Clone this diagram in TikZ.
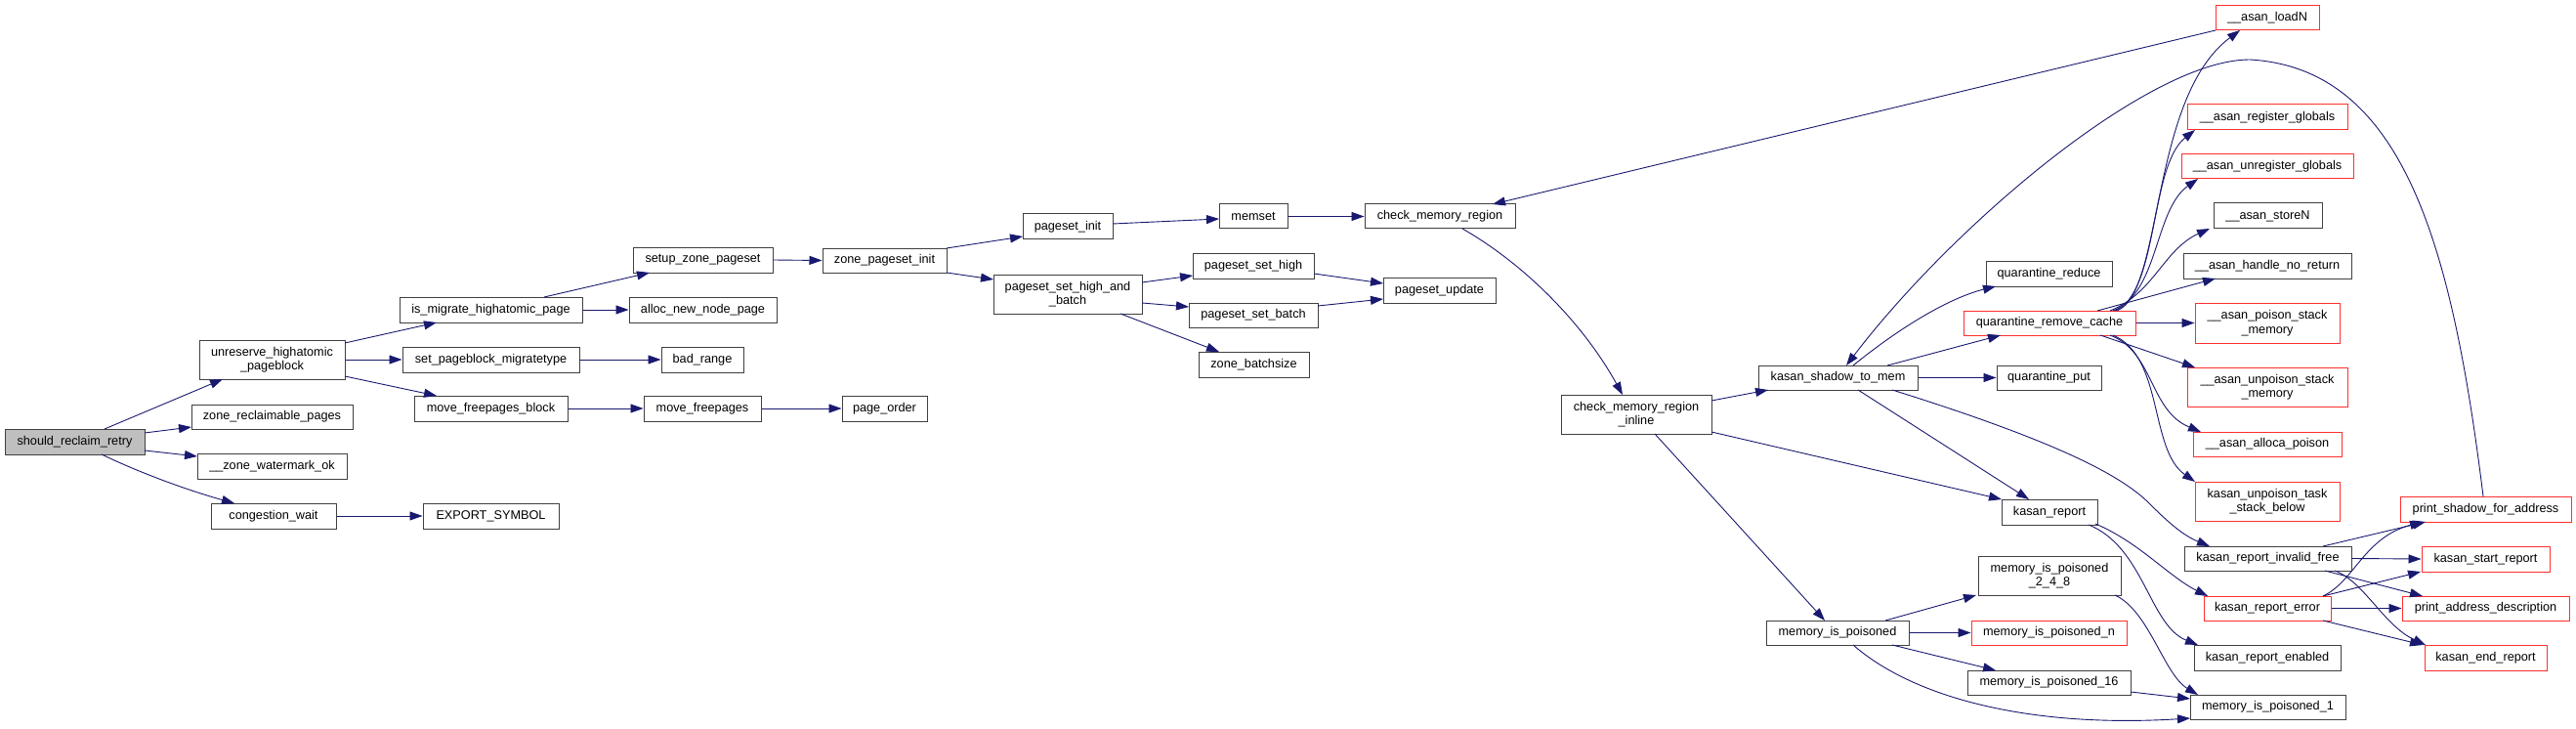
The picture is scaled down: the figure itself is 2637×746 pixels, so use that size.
\documentclass[tikz,border=0pt]{standalone}
\usepackage{fontspec}
\setmainfont{Liberation Sans}
\usetikzlibrary{arrows.meta}
\definecolor{edgec}{HTML}{191970}
\definecolor{redb}{HTML}{FF3030}
\definecolor{boxb}{HTML}{404040}
\definecolor{rootf}{HTML}{BFBFBF}
\tikzset{
 fn/.style={draw=boxb, line width=1pt, inner sep=0pt, align=center, font=\fontsize{12.7}{14.5}\selectfont},
 fnred/.style={fn, draw=redb},
 fnroot/.style={fn, fill=rootf},
 call/.style={draw=edgec, line width=0.9pt, -{Triangle[length=13pt,width=9pt]}},
}
\newcommand\mknode[7]{\node[#1,minimum width={(#5)-(#3)},minimum height={(#6)-(#4)}] (#2) at ({((#3)+(#5))/2},{((#4)+(#6))/2}) {#7};}
\begin{document}
\begin{tikzpicture}[x=1pt,y=-1pt]
\useasboundingbox (0,0) rectangle (2637,746);
\mknode{fnroot}{srr}{5}{439}{148}{465}{should\_reclaim\_retry}
\mknode{fn}{urh}{204}{348}{353}{388}{unreserve\_highatomic\\\_pageblock}
\mknode{fn}{zrp}{196}{414}{361}{439}{zone\_reclaimable\_pages}
\mknode{fn}{zwo}{202}{464}{355}{490}{\_\_zone\_watermark\_ok}
\mknode{fn}{cw}{216}{515}{344}{541}{congestion\_wait}
\mknode{fn}{imh}{409}{304}{596}{330}{is\_migrate\_highatomic\_page}
\mknode{fn}{spm}{412}{355}{593}{381}{set\_pageblock\_migratetype}
\mknode{fn}{mfb}{424}{405}{581}{431}{move\_freepages\_block}
\mknode{fn}{es}{433}{515}{572}{541}{EXPORT\_SYMBOL}
\mknode{fn}{szp}{648}{253}{791}{279}{setup\_zone\_pageset}
\mknode{fn}{ann}{644}{304}{795}{330}{alloc\_new\_node\_page}
\mknode{fn}{br}{677}{355}{761}{381}{bad\_range}
\mknode{fn}{mf}{659}{405}{779}{431}{move\_freepages}
\mknode{fn}{po}{862}{405}{949}{431}{page\_order}
\mknode{fn}{zpi}{842}{254}{969}{279}{zone\_pageset\_init}
\mknode{fn}{pi}{1047}{219}{1139}{245}{pageset\_init}
\mknode{fn}{pshb}{1017}{281}{1169}{321}{pageset\_set\_high\_and\\\_batch}
\mknode{fn}{ms}{1248}{209}{1318}{234}{memset}
\mknode{fn}{psh}{1221}{259}{1345}{285}{pageset\_set\_high}
\mknode{fn}{psb}{1217}{310}{1349}{335}{pageset\_set\_batch}
\mknode{fn}{zb}{1227}{360}{1340}{386}{zone\_batchsize}
\mknode{fn}{cmr}{1397}{209}{1551}{234}{check\_memory\_region}
\mknode{fn}{pu}{1416}{284}{1531}{310}{pageset\_update}
\mknode{fn}{cmri}{1598}{404}{1752}{444}{check\_memory\_region\\\_inline}
\mknode{fn}{kstm}{1800}{374}{1963}{399}{kasan\_shadow\_to\_mem}
\mknode{fn}{qr}{2033}{267}{2162}{293}{quarantine\_reduce}
\mknode{fnred}{qrc}{2010}{318}{2186}{343}{quarantine\_remove\_cache}
\mknode{fn}{qp}{2044}{374}{2151}{399}{quarantine\_put}
\mknode{fn}{kr}{2049}{511}{2147}{537}{kasan\_report}
\mknode{fn}{mp248}{2025}{569}{2171}{609}{memory\_is\_poisoned\\\_2\_4\_8}
\mknode{fn}{mip}{1808}{635}{1954}{660}{memory\_is\_poisoned}
\mknode{fnred}{mpn}{2018}{635}{2177}{660}{memory\_is\_poisoned\_n}
\mknode{fn}{mp16}{2014}{686}{2181}{711}{memory\_is\_poisoned\_16}
\mknode{fnred}{aln}{2268}{6}{2374}{31}{\_\_asan\_loadN}
\mknode{fnred}{arg}{2239}{107}{2403}{133}{\_\_asan\_register\_globals}
\mknode{fnred}{aug}{2233}{158}{2409}{183}{\_\_asan\_unregister\_globals}
\mknode{fn}{asn}{2266}{208}{2377}{234}{\_\_asan\_storeN}
\mknode{fn}{ahnr}{2235}{259}{2407}{285}{\_\_asan\_handle\_no\_return}
\mknode{fnred}{apsm}{2247}{310}{2395}{351}{\_\_asan\_poison\_stack\\\_memory}
\mknode{fnred}{aupsm}{2239}{376}{2403}{416}{\_\_asan\_unpoison\_stack\\\_memory}
\mknode{fnred}{aap}{2245}{442}{2397}{467}{\_\_asan\_alloca\_poison}
\mknode{fnred}{kutsb}{2247}{493}{2395}{533}{kasan\_unpoison\_task\\\_stack\_below}
\mknode{fn}{krif}{2236}{559}{2407}{584}{kasan\_report\_invalid\_free}
\mknode{fnred}{kre}{2256}{610}{2386}{635}{kasan\_report\_error}
\mknode{fn}{kren}{2246}{660}{2396}{686}{kasan\_report\_enabled}
\mknode{fn}{mp1}{2242}{711}{2401}{736}{memory\_is\_poisoned\_1}
\mknode{fnred}{psfa}{2457}{508}{2632}{534}{print\_shadow\_for\_address}
\mknode{fnred}{ksr}{2479}{559}{2610}{585}{kasan\_start\_report}
\mknode{fnred}{pad}{2459}{610}{2630}{635}{print\_address\_description}
\mknode{fnred}{ker}{2482}{660}{2607}{686}{kasan\_end\_report}
% edges
\draw[call] ([shift={(30.5,-13)}]srr.center) -- ([shift={(-50.5,20)}]urh.center);
\draw[call] ([shift={(71.5,-9)}]srr.center) -- ([shift={(-82.5,10.5)}]zrp.center);
\draw[call] ([shift={(71.5,9)}]srr.center) -- ([shift={(-76.5,-10)}]zwo.center);
\draw[call] ([shift={(27.5,13)}]srr.center) .. controls (150,487) and (200,504) .. ([shift={(-40,-13)}]cw.center);
\draw[call] ([shift={(74.5,-17)}]urh.center) -- ([shift={(-55.5,13)}]imh.center);
\draw[call] (urh.east) -- (spm.west);
\draw[call] ([shift={(74.5,17)}]urh.center) -- ([shift={(-55.5,-13)}]mfb.center);
\draw[call] ([shift={(54.5,-13)}]imh.center) -- ([shift={(-54.5,13)}]szp.center);
\draw[call] (imh.east) -- (ann.west);
\draw[call] (spm.east) -- (br.west);
\draw[call] (mfb.east) -- (mf.west);
\draw[call] (mf.east) -- (po.west);
\draw[call] (cw.east) -- (es.west);
\draw[call] (szp.east) -- (zpi.west);
\draw[call] ([shift={(63.5,-12.5)}]zpi.center) -- ([shift={(-46,10)}]pi.center);
\draw[call] ([shift={(63.5,12.5)}]zpi.center) -- ([shift={(-76,-15)}]pshb.center);
\draw[call] ([shift={(46,-3)}]pi.center) -- ([shift={(-35,2.5)}]ms.center);
\draw[call] (ms.east) -- (cmr.west);
\draw[call] ([shift={(76,-12)}]pshb.center) -- ([shift={(-62,10)}]psh.center);
\draw[call] ([shift={(76,9)}]pshb.center) -- ([shift={(-66,-8.5)}]psb.center);
\draw[call] ([shift={(54,20)}]pshb.center) -- ([shift={(-35.5,-13)}]zb.center);
\draw[call] ([shift={(62,8)}]psh.center) -- ([shift={(-57.5,-7)}]pu.center);
\draw[call] ([shift={(66,-9.5)}]psb.center) -- ([shift={(-57.5,9)}]pu.center);
\draw[call] ([shift={(-53,12.5)}]aln.center) -- ([shift={(54,-12.5)}]cmr.center);
\draw[call] ([shift={(23,12.5)}]cmr.center) .. controls (1560,270) and (1620,330) .. ([shift={(-14,-20)}]cmri.center);
\draw[call] ([shift={(77,-14)}]cmri.center) -- ([shift={(-71.5,12.5)}]kstm.center);
\draw[call] ([shift={(77,18)}]cmri.center) -- ([shift={(-49,-13)}]kr.center);
\draw[call] ([shift={(19,20)}]cmri.center) -- ([shift={(-13,-12.5)}]mip.center);
\draw[call] ([shift={(15.5,-12.5)}]kstm.center) .. controls (1945,335) and (1995,305) .. ([shift={(-54.5,13)}]qr.center);
\draw[call] ([shift={(50.5,-12.5)}]kstm.center) -- ([shift={(-50,12.5)}]qrc.center);
\draw[call] ([shift={(-2.5,-13)}]psfa.center) .. controls (2510,250) and (2460,70) .. (2303,61) .. controls (2200,61) and (2000,230) .. ([shift={(8.5,-12.5)}]kstm.center);
\draw[call] (kstm.east) -- (qp.west);
\draw[call] ([shift={(20.5,12.5)}]kstm.center) -- ([shift={(-21,-13)}]kr.center);
\draw[call] ([shift={(55.5,12.5)}]kstm.center) .. controls (2100,450) and (2170,485) .. (2200,515) .. controls (2220,535) and (2235,548) .. ([shift={(-59.5,-12.5)}]krif.center);
\draw[call] ([shift={(47,12)}]kr.center) .. controls (2190,555) and (2220,590) .. ([shift={(-61,-12.5)}]kre.center);
\draw[call] ([shift={(40,13)}]kr.center) .. controls (2195,560) and (2200,640) .. ([shift={(-71,-13)}]kren.center);
\draw[call] ([shift={(49,-12.5)}]mip.center) -- ([shift={(-75,20)}]mp248.center);
\draw[call] (mip.east) -- (mpn.west);
\draw[call] ([shift={(56,12.5)}]mip.center) -- ([shift={(-54.5,-12.5)}]mp16.center);
\draw[call] ([shift={(16,12.5)}]mip.center) .. controls (1960,715) and (2080,745) .. ([shift={(-79.5,11.5)}]mp1.center);
\draw[call] ([shift={(67,20)}]mp248.center) .. controls (2200,625) and (2215,690) .. ([shift={(-71.5,-12.5)}]mp1.center);
\draw[call] ([shift={(83.5,9.5)}]mp16.center) -- ([shift={(-79.5,-8.5)}]mp1.center);
\draw[call] ([shift={(69,-12.5)}]qrc.center) .. controls (2215,300) and (2200,100) .. ([shift={(-28,12.5)}]aln.center);
\draw[call] ([shift={(67,-12.5)}]qrc.center) .. controls (2210,300) and (2200,170) .. ([shift={(-74,13)}]arg.center);
\draw[call] ([shift={(65,-12.5)}]qrc.center) .. controls (2210,300) and (2205,215) .. ([shift={(-71,12.5)}]aug.center);
\draw[call] ([shift={(62,-12.5)}]qrc.center) .. controls (2205,300) and (2215,255) .. ([shift={(-59.5,13)}]asn.center);
\draw[call] ([shift={(49,-12.5)}]qrc.center) -- ([shift={(-53,13)}]ahnr.center);
\draw[call] (qrc.east) -- (apsm.west);
\draw[call] ([shift={(52,12.5)}]qrc.center) -- ([shift={(-74,-20)}]aupsm.center);
\draw[call] ([shift={(62,12.5)}]qrc.center) .. controls (2205,360) and (2200,420) .. ([shift={(-68,-12.5)}]aap.center);
\draw[call] ([shift={(65,12.5)}]qrc.center) .. controls (2215,365) and (2200,460) .. ([shift={(-74,-20)}]kutsb.center);
\draw[call] ([shift={(56.5,-12.5)}]krif.center) -- ([shift={(-61.5,13)}]psfa.center);
\draw[call] (krif.east) -- (ksr.west);
\draw[call] ([shift={(58.5,12.5)}]krif.center) -- ([shift={(-64.5,-12.5)}]pad.center);
\draw[call] ([shift={(68.5,12.5)}]krif.center) .. controls (2420,595) and (2440,640) .. ([shift={(-61.5,-13)}]ker.center);
\draw[call] ([shift={(57,-12.5)}]kre.center) .. controls (2410,595) and (2420,550) .. ([shift={(-64.5,13)}]psfa.center);
\draw[call] ([shift={(57,-12.5)}]kre.center) -- ([shift={(-66.5,13)}]ksr.center);
\draw[call] (kre.east) -- (pad.west);
\draw[call] ([shift={(57,12.5)}]kre.center) -- ([shift={(-64.5,-13)}]ker.center);
\end{tikzpicture}
\end{document}
